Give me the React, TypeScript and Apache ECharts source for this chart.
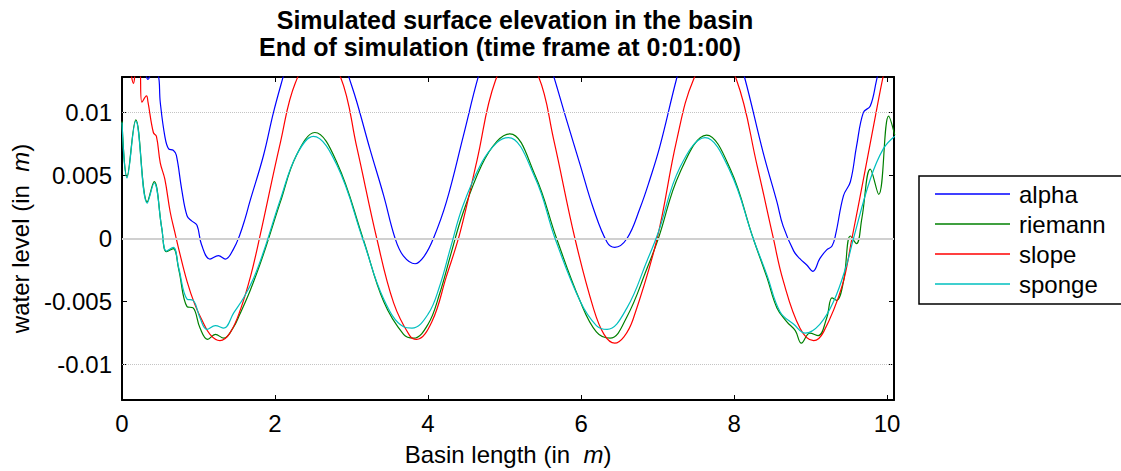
import React, { useEffect, useRef } from "react";
import * as echarts from "echarts";

const titleLines = [
  "Simulated surface elevation in the basin",
  "End of simulation (time frame at 0:01:00)",
];
const titleCenters = [515, 500];
const seriesNames = ["alpha", "riemann", "slope", "sponge"];
const seriesColors = ["#0000ff", "#008000", "#ff0000", "#00bfbf"];
const xTicks = [0, 2, 4, 6, 8, 10];
const yTicks = [-0.01, -0.005, 0, 0.005, 0.01];
const refLevels = [0.0107, -0.0106];

// [basin position (m), water level (m)]
const alpha: [number, number][] = [
  [0, 0.016], [0.2, 0.0145], [0.3, 0.0132], [0.34, 0.0126], [0.39, 0.0131], [0.47, 0.013],
  [0.5, 0.0108], [0.56, 0.0081], [0.61, 0.0071], [0.67, 0.007], [0.71, 0.0066], [0.78, 0.0039],
  [0.85, 0.0018], [0.91, 0.0014], [0.98, 0.00105], [1.04, -0.0005], [1.15, -0.00163],
  [1.26, -0.00136], [1.35, -0.00163], [1.46, -0.0008], [1.54, 0.0003], [1.61, 0.0016],
  [1.67, 0.0029], [1.85, 0.0066], [1.98, 0.01], [2.11, 0.0129], [2.3, 0.017], [2.53, 0.019],
  [2.75, 0.017], [2.96, 0.0129], [3.07, 0.0108], [3.24, 0.0071], [3.42, 0.0034], [3.57, 0],
  [3.68, -0.0014], [3.83, -0.002], [3.95, -0.0014], [4.07, 0], [4.24, 0.0029], [4.46, 0.0081],
  [4.66, 0.0129], [4.9, 0.0175], [5.15, 0.019], [5.4, 0.0175], [5.64, 0.0129], [5.81, 0.0094],
  [5.99, 0.0058], [6.16, 0.0024], [6.34, -0.0003], [6.44, -0.0007], [6.6, 0], [6.77, 0.0024],
  [6.9, 0.0047], [7.03, 0.0073], [7.25, 0.0127], [7.45, 0.017], [7.7, 0.0185], [7.95, 0.0165],
  [8.14, 0.0127], [8.38, 0.0068], [8.56, 0.0029], [8.64, 0.001], [8.78, -0.001], [8.86, -0.0016],
  [8.95, -0.0021], [9.03, -0.0026], [9.12, -0.0016], [9.21, -0.0009], [9.28, -0.0006],
  [9.33, 0.0004], [9.43, 0.0034], [9.52, 0.0045], [9.6, 0.0073], [9.69, 0.01], [9.78, 0.0105],
  [9.86, 0.0125], [9.95, 0.015], [10.1, 0.018],
];

const riemann: [number, number][] = [
  [0, 0.0093], [0.065, 0.0049], [0.18, 0.0094], [0.33, 0.0029], [0.42, 0.0045], [0.52, 0.0008],
  [0.58, -0.00105], [0.67, -0.0008], [0.74, -0.0024], [0.85, -0.0054], [0.93, -0.0055],
  [1.02, -0.0071], [1.12, -0.008], [1.22, -0.0076], [1.33, -0.0079], [1.45, -0.0071],
  [1.54, -0.006], [1.67, -0.0042], [1.8, -0.0021], [1.89, -0.0005], [2.07, 0.0029],
  [2.28, 0.0066], [2.52, 0.0084], [2.81, 0.006], [3.15, 0], [3.42, -0.005], [3.68, -0.0076],
  [3.81, -0.0079], [4.0, -0.0068], [4.15, -0.0044], [4.3, -0.0012], [4.45, 0.0019],
  [4.7, 0.0058], [4.9, 0.0077], [5.07, 0.0083], [5.4, 0.005], [5.68, 0], [5.99, -0.005],
  [6.2, -0.0074], [6.38, -0.0079], [6.6, -0.0062], [6.86, -0.0024], [7.01, 0], [7.29, 0.0052],
  [7.64, 0.0082], [7.95, 0.0055], [8.25, 0], [8.43, -0.0031], [8.56, -0.0055], [8.69, -0.0066],
  [8.8, -0.0073], [8.88, -0.0083], [8.99, -0.0075], [9.1, -0.0077], [9.21, -0.0063],
  [9.28, -0.0047], [9.34, -0.0049], [9.43, -0.0034], [9.52, 0.0002], [9.6, -0.0004],
  [9.67, 0.0016], [9.78, 0.0055], [9.89, 0.0035], [10.02, 0.0097], [10.1, 0.0082],
];

const slope: [number, number][] = [
  [0, 0.015], [0.1, 0.0135], [0.15, 0.0123], [0.19, 0.0135], [0.23, 0.0135], [0.26, 0.0108],
  [0.32, 0.0113], [0.34, 0.0108], [0.41, 0.0084], [0.45, 0.0081], [0.5, 0.006], [0.56, 0.0047],
  [0.63, 0.0021], [0.69, 0.0005], [0.74, -0.0008], [0.85, -0.0034], [0.95, -0.0052],
  [1.04, -0.0064], [1.15, -0.0076], [1.28, -0.0081], [1.41, -0.0075], [1.55, -0.0056],
  [1.68, -0.003], [1.8, 0.0001], [2.07, 0.0076], [2.27, 0.0124], [2.56, 0.015], [2.85, 0.0129],
  [3.07, 0.0072], [3.33, 0], [3.55, -0.0051], [3.76, -0.0077], [3.85, -0.008], [4.05, -0.0066],
  [4.24, -0.003], [4.42, 0.0005], [4.64, 0.0062], [4.88, 0.0125], [5.16, 0.015], [5.44, 0.0129],
  [5.64, 0.0079], [5.92, 0], [6.16, -0.0055], [6.3, -0.0076], [6.44, -0.0083], [6.56, -0.0078],
  [6.68, -0.0064], [6.99, -0.0001], [7.25, 0.0078], [7.47, 0.0126], [7.75, 0.015], [8.03, 0.0126],
  [8.3, 0.0058], [8.51, 0.0001], [8.64, -0.0033], [8.86, -0.0071], [9.04, -0.0081],
  [9.17, -0.0074], [9.41, -0.0038], [9.54, 0], [9.7, 0.005], [9.85, 0.0098], [9.95, 0.0129],
  [10.1, 0.017],
];

const sponge: [number, number][] = [
  [0, 0.0092], [0.065, 0.0048], [0.18, 0.0093], [0.33, 0.0028], [0.42, 0.0044], [0.52, 0.0008],
  [0.58, -0.001], [0.67, -0.0007], [0.74, -0.0023], [0.85, -0.0048], [0.93, -0.0049],
  [1.02, -0.0063], [1.11, -0.0072], [1.22, -0.0069], [1.33, -0.0071], [1.46, -0.0059],
  [1.59, -0.0047], [1.72, -0.00315], [1.85, -0.00105], [2.07, 0.0031], [2.28, 0.0066],
  [2.5, 0.0081], [2.81, 0.0058], [3.15, -0.0001], [3.42, -0.0048], [3.68, -0.007],
  [3.79, -0.0071], [4.0, -0.006], [4.15, -0.0038], [4.3, -0.0006], [4.45, 0.0025],
  [4.7, 0.006], [4.9, 0.0076], [5.05, 0.008], [5.4, 0.0048], [5.66, 0], [5.99, -0.005],
  [6.2, -0.0069], [6.34, -0.0072], [6.6, -0.0055], [6.86, -0.0018], [7.01, 0.0005],
  [7.29, 0.0056], [7.62, 0.008], [7.95, 0.0053], [8.25, 0], [8.43, -0.0029], [8.6, -0.0058],
  [8.78, -0.0068], [8.93, -0.0075], [9.12, -0.0068], [9.3, -0.005], [9.47, -0.0021],
  [9.56, 0], [9.78, 0.0047], [9.95, 0.0071], [10.1, 0.0081],
];

const seriesData = [alpha, riemann, slope, sponge];

const FONT = '"Liberation Sans", Arial, Helvetica, sans-serif';

export default function App() {
  const ref = useRef<HTMLDivElement>(null);
  useEffect(() => {
    if (!ref.current) return;
    const chart = echarts.init(ref.current, undefined, { renderer: "svg" });
    const axisCommon = {
      type: "value" as const,
      axisLine: { show: true, onZero: false, lineStyle: { color: "#000", width: 2 } },
      splitLine: { show: false },
    };
    chart.setOption({
      animation: false,
      backgroundColor: "#fff",
      textStyle: { fontFamily: FONT },
      graphic: titleLines.map((t, i) => ({
        type: "text",
        x: titleCenters[i],
        y: 20 + i * 27,
        style: {
          text: t,
          font: `bold 25px ${FONT}`,
          fill: "#000",
          align: "center",
          verticalAlign: "middle",
          textAlign: "center",
          textVerticalAlign: "middle",
        },
      })),
      grid: { left: 122, top: 77, width: 772, height: 325, containLabel: false },
      legend: {
        data: seriesNames,
        orient: "vertical",
        left: 919,
        top: 176,
        padding: [6, 24, 8, 16],
        icon: "rect",
        itemWidth: 75,
        itemHeight: 1.5,
        itemGap: 6,
        borderColor: "#000",
        borderWidth: 1.5,
        backgroundColor: "#fff",
        textStyle: { fontSize: 24, lineHeight: 24, height: 24, color: "#000", fontFamily: FONT, padding: [0, 0, 0, 4] },
      },
      xAxis: [
        {
          ...axisCommon,
          position: "bottom",
          min: 0,
          max: 10.09,
          axisTick: { show: true, inside: true, length: 5, customValues: xTicks, lineStyle: { color: "#000" } },
          axisLabel: { show: true, customValues: xTicks, margin: 11, fontSize: 24, color: "#000", fontFamily: FONT },
          name: "Basin length (in  {i|m})",
          nameLocation: "middle",
          nameGap: 42,
          nameTextStyle: {
            fontSize: 24,
            color: "#000",
            fontFamily: FONT,
            rich: { i: { fontSize: 24, fontStyle: "italic", fontFamily: FONT, color: "#000" } },
          },
        },
        {
          ...axisCommon,
          position: "top",
          min: 0,
          max: 10.09,
          axisTick: { show: true, inside: true, length: 5, customValues: xTicks, lineStyle: { color: "#000" } },
          axisLabel: { show: false },
        },
      ],
      yAxis: [
        {
          ...axisCommon,
          position: "left",
          min: -0.0128,
          max: 0.0128,
          axisTick: { show: true, inside: true, length: 5, customValues: yTicks, lineStyle: { color: "#000" } },
          axisLabel: {
            show: true,
            customValues: yTicks,
            margin: 10,
            fontSize: 24,
            color: "#000",
            fontFamily: FONT,
            formatter: (v: number) => String(v),
          },
          name: "water level (in  {i|m})",
          nameLocation: "middle",
          nameRotate: 90,
          nameGap: 90,
          nameTextStyle: {
            fontSize: 24,
            color: "#000",
            fontFamily: FONT,
            rich: { i: { fontSize: 24, fontStyle: "italic", fontFamily: FONT, color: "#000" } },
          },
        },
        {
          ...axisCommon,
          position: "right",
          min: -0.0128,
          max: 0.0128,
          axisTick: { show: true, inside: true, length: 5, customValues: yTicks, lineStyle: { color: "#000" } },
          axisLabel: { show: false },
        },
      ],
      series: [
        {
          name: "_ref",
          type: "line",
          data: [],
          silent: true,
          z: 1,
          markLine: {
            silent: true,
            symbol: ["none", "none"],
            label: { show: false },
            animation: false,
            data: [
              { yAxis: 0, lineStyle: { color: "#d0d0d0", width: 2, type: "solid" } },
              ...refLevels.map((v) => ({ yAxis: v, lineStyle: { color: "#c4c4c4", width: 1, type: "dotted" } })),
            ],
          },
        },
        ...seriesNames.map((n, i) => ({
          name: n,
          type: "line",
          data: seriesData[i],
          showSymbol: false,
          symbol: "none",
          smooth: 0.4,
          clip: true,
          z: 2 + i,
          color: seriesColors[i],
          lineStyle: { color: seriesColors[i], width: 1.2 },
        })),
      ],
    });
    return () => chart.dispose();
  }, []);
  return (
    <div
      ref={ref}
      style={{ position: "fixed", left: 0, top: 0, width: 1121, height: 471, background: "#fff" }}
    />
  );
}
